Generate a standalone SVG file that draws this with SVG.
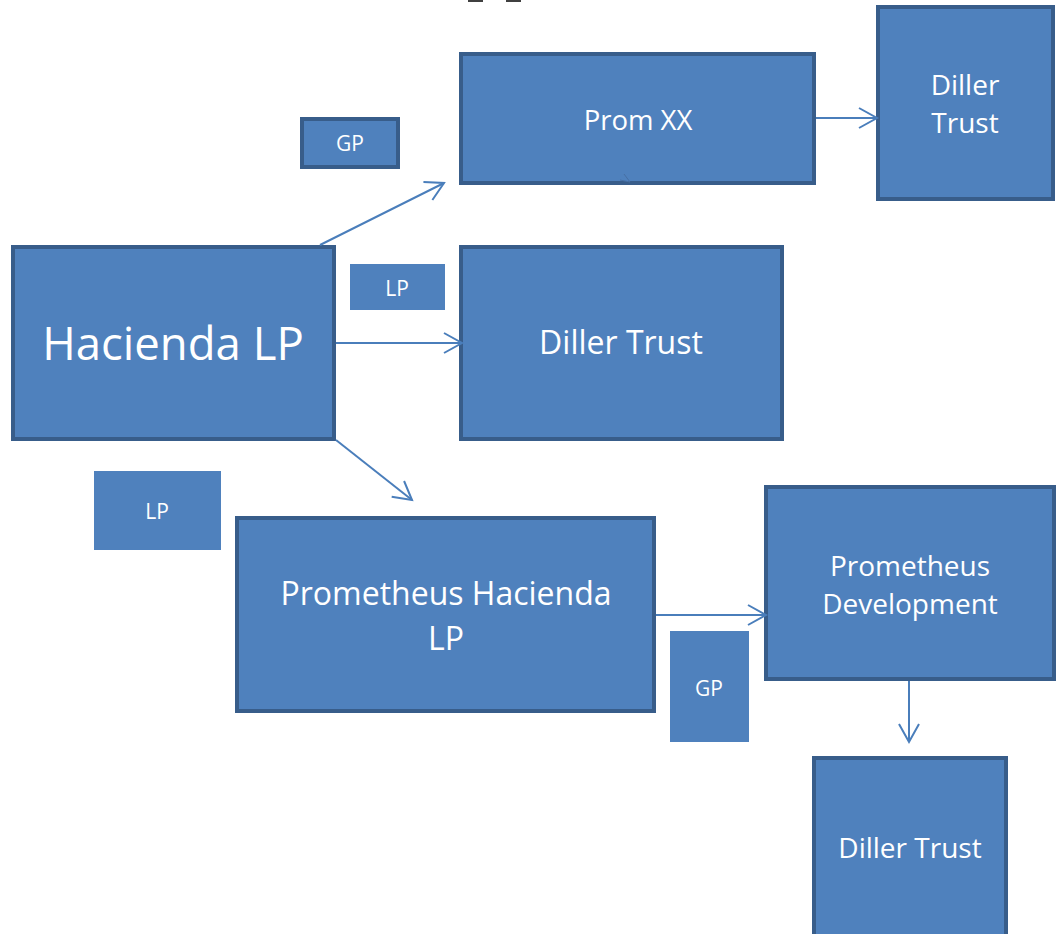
<svg xmlns="http://www.w3.org/2000/svg" width="1056" height="934" viewBox="0 0 1056 934">
<defs>
<style>
.box{fill:#4f81bd;stroke:#385d8a;stroke-width:4}
.plain{fill:#4f81bd}
.t{fill:#ffffff;font-family:"Open Sans","Noto Sans",sans-serif;text-anchor:middle}
.c{fill:none;stroke:#4a7ebb;stroke-width:2}
</style>
<marker id="ah" markerWidth="24" markerHeight="24" refX="19" refY="12" orient="auto" markerUnits="userSpaceOnUse">
<path d="M1,2 L19,12 L1,22" fill="none" stroke="#4a7ebb" stroke-width="2"/>
</marker>
</defs>
<rect width="1056" height="934" fill="#ffffff"/>
<rect x="468" y="0" width="15" height="2" fill="#404040"/>
<rect x="506" y="0" width="15" height="2" fill="#404040"/>
<g id="hacienda-lp"><rect class="box" x="13" y="247" width="321" height="192"/><text class="t" x="173" y="360" font-size="45.5">Hacienda LP</text></g>
<g id="gp-top"><rect class="box" x="302" y="119" width="96" height="48"/><text class="t" x="350" y="151" font-size="21">GP</text></g>
<g id="prom-xx"><rect class="box" x="461" y="54" width="353" height="129"/><text class="t" x="638" y="130" font-size="27.5">Prom XX</text><path d="M624,174 L630,182 L620,180" fill="none" stroke="#466fa4" stroke-width="1"/></g>
<g id="diller-trust-top"><rect class="box" x="878" y="7" width="175" height="192"/><text class="t" x="965" y="95" font-size="28">Diller</text><text class="t" x="965" y="133" font-size="28">Trust</text></g>
<g id="lp-mid"><rect class="plain" x="350" y="264" width="95" height="46"/><text class="t" x="397" y="296" font-size="21">LP</text></g>
<g id="diller-trust-mid"><rect class="box" x="461" y="247" width="321" height="192"/><text class="t" x="621" y="354" font-size="32">Diller Trust</text></g>
<g id="lp-left"><rect class="plain" x="94" y="471" width="127" height="79"/><text class="t" x="157" y="519" font-size="21">LP</text></g>
<g id="prometheus-hacienda-lp"><rect class="box" x="237" y="518" width="417" height="193"/><text class="t" x="446" y="605" font-size="32">Prometheus Hacienda</text><text class="t" x="446" y="650" font-size="32">LP</text></g>
<g id="prometheus-development"><rect class="box" x="766" y="487" width="288" height="192"/><text class="t" x="910" y="576" font-size="28">Prometheus</text><text class="t" x="910" y="614" font-size="28">Development</text></g>
<g id="gp-right"><rect class="plain" x="670" y="631" width="79" height="111"/><text class="t" x="709" y="696" font-size="21">GP</text></g>
<g id="diller-trust-bottom"><rect class="box" x="814" y="758" width="192" height="190"/><text class="t" x="910" y="858" font-size="28">Diller Trust</text></g>
<g id="connectors">
<line class="c" x1="320" y1="245" x2="444" y2="183" marker-end="url(#ah)"/>
<line class="c" x1="336" y1="343" x2="462" y2="343" marker-end="url(#ah)"/>
<line class="c" x1="336" y1="440" x2="412" y2="500" marker-end="url(#ah)"/>
<line class="c" x1="816" y1="118" x2="877" y2="118" marker-end="url(#ah)"/>
<line class="c" x1="656" y1="615" x2="766" y2="615" marker-end="url(#ah)"/>
<line class="c" x1="909" y1="681" x2="909" y2="742" marker-end="url(#ah)"/>
</g>
</svg>
